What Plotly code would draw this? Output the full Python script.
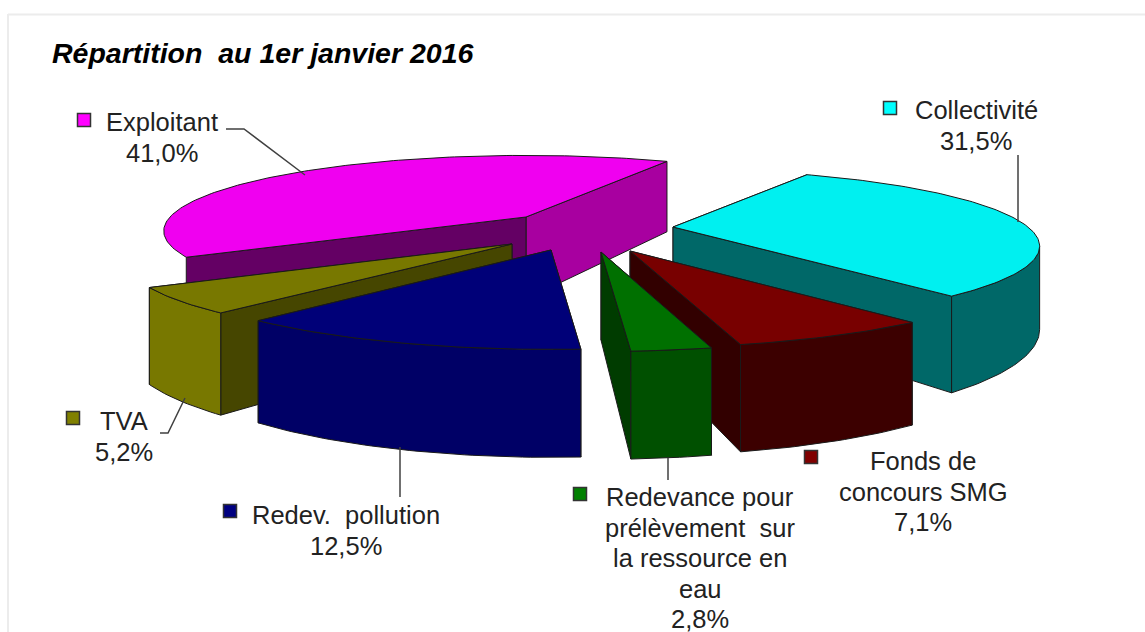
import math
import plotly.graph_objects as go

# ---- data ----
title_text = "Répartition  au 1er janvier 2016"
categories = ["Exploitant", "Collectivité", "Fonds de<br>concours SMG",
              "Redevance pour<br>prélèvement  sur<br>la ressource en<br>eau", "Redev.  pollution", "TVA"]
values = [41.0, 31.5, 7.1, 2.8, 12.5, 5.2]
value_labels = ["41,0%", "31,5%", "7,1%", "2,8%", "12,5%", "5,2%"]

# ---- styles ----
top_colors = ["#f000f0", "#00f0f0", "#780000", "#007000", "#000078", "#787800"]
outer_colors = ["#f000f0", "#006868", "#3c0000", "#005000", "#000066", "#787800"]
start_wall = ["#640064", "#006868", "#3c0000", "#005000", "#000066", "#464600"]
end_wall = ["#a800a0", "#006868", "#320000", "#003c00", "#000066", "#787800"]
key_colors = ["#ff00ff", "#00ffff", "#800000", "#008000", "#000080", "#808000"]
edge = "#1a1a1a"

# ---- projection of the exploded 3D pie ----
apex_x = [526, 673, 630, 601, 551, 512]
apex_y = [217, 227, 251, 252, 250, 244]
radius_x = [356, 355, 382, 382, 382, 380]
radius_y = [73, 72, 79, 81, 81, 79]
persp = [0.185, 0.25, 0.185, 0.185, 0.185, 0.185]
depth = [82, 78, 88, 88, 88, 88]
start_deg = -210.0
draw_order = [0, 1, 5, 2, 4, 3]


def project(i, a_deg, bottom=False):
    a = math.radians(a_deg)
    s = 1 / (1 - persp[i] * math.sin(a))
    x = apex_x[i] + radius_x[i] * math.cos(a) * s
    y = apex_y[i] + radius_y[i] * math.sin(a) * s
    if bottom:
        y += depth[i] * s
    return x, y


def apex(i, bottom=False):
    return apex_x[i], apex_y[i] + (depth[i] if bottom else 0)


def frange(a, b, step=1.0):
    n = max(2, int(abs(b - a) / step) + 1)
    return [a + (b - a) * k / (n - 1) for k in range(n)]


def poly(points, fill):
    xs = [p[0] for p in points] + [points[0][0]]
    ys = [p[1] for p in points] + [points[0][1]]
    return go.Scatter(x=xs, y=ys, mode="lines", fill="toself", fillcolor=fill,
                      line=dict(color=edge, width=1), hoverinfo="skip", showlegend=False)


total = sum(values)
spans = []
cur = start_deg
for v in values:
    sweep = v / total * 360
    spans.append((cur, cur + sweep))
    cur += sweep

fig = go.Figure()
for i in draw_order:
    a1, a2 = spans[i]
    wall1 = poly([apex(i), project(i, a1), project(i, a1, True), apex(i, True)], start_wall[i])
    wall2 = poly([apex(i), project(i, a2), project(i, a2, True), apex(i, True)], end_wall[i])
    # radial walls: the one facing the viewer goes last
    if math.cos(math.radians((a1 + a2) / 2)) < 0:
        fig.add_trace(wall2)
        fig.add_trace(wall1)
    else:
        fig.add_trace(wall1)
        fig.add_trace(wall2)
    # outer cylinder wall, only where it faces the viewer (between the silhouette tangents)
    tangent = math.degrees(math.asin(persp[i]))
    for shift in (0, -360):
        lo = max(a1 + shift, tangent)
        hi = min(a2 + shift, 180 - tangent)
        if hi > lo:
            arc = frange(lo, hi)
            pts = [project(i, a) for a in arc] + [project(i, a, True) for a in reversed(arc)]
            fig.add_trace(poly(pts, outer_colors[i]))
    # top face
    fig.add_trace(poly([apex(i)] + [project(i, a) for a in frange(a1, a2)], top_colors[i]))

# leader lines
leader_x = [[226, 244, 305], [1018, 1018], [160, 168, 185], [400, 400], [668, 668]]
leader_y = [[129, 129, 175], [155, 222], [433, 433, 398], [447, 497], [458, 480]]
for lx, ly in zip(leader_x, leader_y):
    fig.add_trace(go.Scatter(x=lx, y=ly, mode="lines", line=dict(color="#404040", width=1.5),
                             hoverinfo="skip", showlegend=False))

# legend keys
key_x = [84, 890, 811, 580, 230, 73]
key_y = [120, 108, 457, 494, 511, 418]
fig.add_trace(go.Scatter(x=key_x, y=key_y, mode="markers", hoverinfo="skip", showlegend=False,
                         marker=dict(symbol="square", size=13, color=key_colors,
                                     line=dict(color="#333333", width=1.5))))

# labels, one annotation per line for the tight line spacing of the original
label_x = [162, 976, 923, 700, 346, 124]
label_top = [122, 110, 461, 497, 515, 421]
line_gap = 30.5
annotations = []
for lx, ly, c, v in zip(label_x, label_top, categories, value_labels):
    for k, line in enumerate(c.split("<br>") + [v]):
        annotations.append(dict(x=lx, y=ly + k * line_gap, xref="x", yref="y", text=line, showarrow=False,
                                xanchor="center", yanchor="middle", align="center",
                                font=dict(family="Liberation Sans", size=25.5, color="#222222")))
annotations.append(dict(x=50, y=53, xref="x", yref="y", text=f"<b><i>{title_text}</i></b>",
                        showarrow=False, xanchor="left", yanchor="middle",
                        font=dict(family="Liberation Sans", size=28.5, color="#000000")))

fig.update_layout(
    width=1145, height=632, margin=dict(l=0, r=0, t=0, b=0),
    paper_bgcolor="white", plot_bgcolor="white", showlegend=False,
    xaxis=dict(range=[0, 1145], visible=False, fixedrange=True),
    yaxis=dict(range=[632, 0], visible=False, fixedrange=True),
    annotations=annotations,
    shapes=[
        dict(type="line", x0=8, x1=1145, y0=14.5, y1=14.5, line=dict(color="#ececec", width=2), layer="below"),
        dict(type="line", x0=8, x1=8, y0=14, y1=632, line=dict(color="#ececec", width=2), layer="below"),
    ],
)
fig.write_html("out.html", config=dict(displayModeBar=False),
               post_script="document.body.style.margin='0';document.body.style.overflow='hidden';")
